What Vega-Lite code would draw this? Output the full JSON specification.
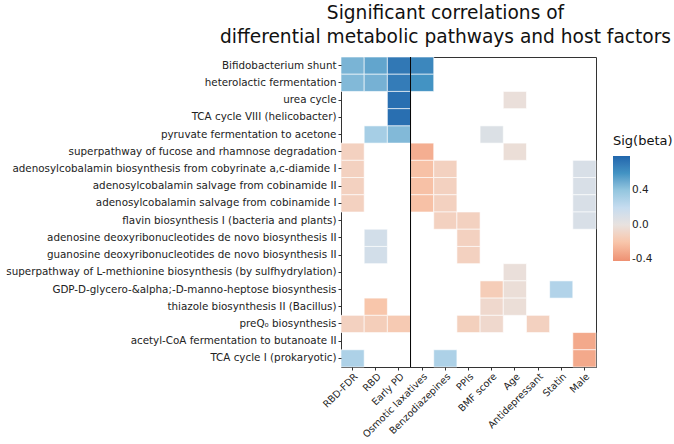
{
  "$schema": "https://vega.github.io/schema/vega-lite/v6.json",
  "width": 255,
  "height": 310,
  "padding": {"left": 5, "top": 3, "right": 5, "bottom": 0},
  "config": {
    "font": "DejaVu Sans",
    "view": {"stroke": "#333333", "strokeWidth": 1},
    "axis": {"labelFontSize": 10.35, "labelColor": "#222222", "tickColor": "#333333", "tickSize": 3, "domain": false, "grid": false, "title": null, "labelPadding": 2, "labelLimit": 0}
  },
  "title": {
    "text": ["Significant correlations of", "differential metabolic pathways and host factors"],
    "fontSize": 18.6, "fontWeight": "normal", "anchor": "middle", "frame": "group", "dx": -23, "offset": 10, "lineHeight": 24, "color": "#111111"
  },
  "layer": [
    {
      "data": {"values": [
        {"pathway": "Bifidobacterium shunt", "factor": "RBD-FDR", "beta": 0.47},
        {"pathway": "Bifidobacterium shunt", "factor": "RBD", "beta": 0.53},
        {"pathway": "Bifidobacterium shunt", "factor": "Early PD", "beta": 0.72},
        {"pathway": "Bifidobacterium shunt", "factor": "Osmotic laxatives", "beta": 0.65},
        {"pathway": "heterolactic fermentation", "factor": "RBD-FDR", "beta": 0.45},
        {"pathway": "heterolactic fermentation", "factor": "RBD", "beta": 0.48},
        {"pathway": "heterolactic fermentation", "factor": "Early PD", "beta": 0.7},
        {"pathway": "heterolactic fermentation", "factor": "Osmotic laxatives", "beta": 0.6},
        {"pathway": "urea cycle", "factor": "Early PD", "beta": 0.76},
        {"pathway": "urea cycle", "factor": "Age", "beta": -0.02},
        {"pathway": "TCA cycle VIII (helicobacter)", "factor": "Early PD", "beta": 0.76},
        {"pathway": "pyruvate fermentation to acetone", "factor": "RBD", "beta": 0.33},
        {"pathway": "pyruvate fermentation to acetone", "factor": "Early PD", "beta": 0.45},
        {"pathway": "pyruvate fermentation to acetone", "factor": "BMF score", "beta": 0.08},
        {"pathway": "superpathway of fucose and rhamnose degradation", "factor": "RBD-FDR", "beta": -0.12},
        {"pathway": "superpathway of fucose and rhamnose degradation", "factor": "Osmotic laxatives", "beta": -0.3},
        {"pathway": "superpathway of fucose and rhamnose degradation", "factor": "Age", "beta": -0.03},
        {"pathway": "adenosylcobalamin biosynthesis from cobyrinate a,c-diamide I", "factor": "RBD-FDR", "beta": -0.12},
        {"pathway": "adenosylcobalamin biosynthesis from cobyrinate a,c-diamide I", "factor": "Osmotic laxatives", "beta": -0.22},
        {"pathway": "adenosylcobalamin biosynthesis from cobyrinate a,c-diamide I", "factor": "Benzodiazepines", "beta": -0.12},
        {"pathway": "adenosylcobalamin biosynthesis from cobyrinate a,c-diamide I", "factor": "Male", "beta": 0.1},
        {"pathway": "adenosylcobalamin salvage from cobinamide II", "factor": "RBD-FDR", "beta": -0.12},
        {"pathway": "adenosylcobalamin salvage from cobinamide II", "factor": "Osmotic laxatives", "beta": -0.22},
        {"pathway": "adenosylcobalamin salvage from cobinamide II", "factor": "Benzodiazepines", "beta": -0.12},
        {"pathway": "adenosylcobalamin salvage from cobinamide II", "factor": "Male", "beta": 0.1},
        {"pathway": "adenosylcobalamin salvage from cobinamide I", "factor": "RBD-FDR", "beta": -0.12},
        {"pathway": "adenosylcobalamin salvage from cobinamide I", "factor": "Osmotic laxatives", "beta": -0.22},
        {"pathway": "adenosylcobalamin salvage from cobinamide I", "factor": "Benzodiazepines", "beta": -0.12},
        {"pathway": "adenosylcobalamin salvage from cobinamide I", "factor": "Male", "beta": 0.1},
        {"pathway": "flavin biosynthesis I (bacteria and plants)", "factor": "Benzodiazepines", "beta": -0.12},
        {"pathway": "flavin biosynthesis I (bacteria and plants)", "factor": "PPIs", "beta": -0.12},
        {"pathway": "flavin biosynthesis I (bacteria and plants)", "factor": "Male", "beta": 0.1},
        {"pathway": "adenosine deoxyribonucleotides de novo biosynthesis II", "factor": "RBD", "beta": 0.13},
        {"pathway": "adenosine deoxyribonucleotides de novo biosynthesis II", "factor": "PPIs", "beta": -0.12},
        {"pathway": "guanosine deoxyribonucleotides de novo biosynthesis II", "factor": "RBD", "beta": 0.13},
        {"pathway": "guanosine deoxyribonucleotides de novo biosynthesis II", "factor": "PPIs", "beta": -0.12},
        {"pathway": "superpathway of L-methionine biosynthesis (by sulfhydrylation)", "factor": "Age", "beta": -0.02},
        {"pathway": "GDP-D-glycero-&alpha;-D-manno-heptose biosynthesis", "factor": "BMF score", "beta": -0.15},
        {"pathway": "GDP-D-glycero-&alpha;-D-manno-heptose biosynthesis", "factor": "Age", "beta": -0.03},
        {"pathway": "GDP-D-glycero-&alpha;-D-manno-heptose biosynthesis", "factor": "Statin", "beta": 0.28},
        {"pathway": "thiazole biosynthesis II (Bacillus)", "factor": "RBD", "beta": -0.2},
        {"pathway": "thiazole biosynthesis II (Bacillus)", "factor": "BMF score", "beta": -0.07},
        {"pathway": "thiazole biosynthesis II (Bacillus)", "factor": "Age", "beta": -0.03},
        {"pathway": "preQ₀ biosynthesis", "factor": "RBD-FDR", "beta": -0.12},
        {"pathway": "preQ₀ biosynthesis", "factor": "RBD", "beta": -0.14},
        {"pathway": "preQ₀ biosynthesis", "factor": "Early PD", "beta": -0.17},
        {"pathway": "preQ₀ biosynthesis", "factor": "PPIs", "beta": -0.13},
        {"pathway": "preQ₀ biosynthesis", "factor": "BMF score", "beta": -0.07},
        {"pathway": "preQ₀ biosynthesis", "factor": "Antidepressant", "beta": -0.12},
        {"pathway": "acetyl-CoA fermentation to butanoate II", "factor": "Male", "beta": -0.32},
        {"pathway": "TCA cycle I (prokaryotic)", "factor": "RBD-FDR", "beta": 0.3},
        {"pathway": "TCA cycle I (prokaryotic)", "factor": "Benzodiazepines", "beta": 0.3},
        {"pathway": "TCA cycle I (prokaryotic)", "factor": "Male", "beta": -0.32}
      ]},
      "mark": {"type": "rect", "stroke": "white", "strokeWidth": 0.6},
      "encoding": {
        "x": {
          "field": "factor", "type": "nominal",
          "scale": {"domain": ["RBD-FDR", "RBD", "Early PD", "Osmotic laxatives", "Benzodiazepines", "PPIs", "BMF score", "Age", "Antidepressant", "Statin", "Male"], "paddingInner": 0, "paddingOuter": 0},
          "axis": {"labelAngle": -45, "labelFontSize": 9.7, "labelPadding": 1}
        },
        "y": {
          "field": "pathway", "type": "nominal",
          "scale": {"domain": ["Bifidobacterium shunt", "heterolactic fermentation", "urea cycle", "TCA cycle VIII (helicobacter)", "pyruvate fermentation to acetone", "superpathway of fucose and rhamnose degradation", "adenosylcobalamin biosynthesis from cobyrinate a,c-diamide I", "adenosylcobalamin salvage from cobinamide II", "adenosylcobalamin salvage from cobinamide I", "flavin biosynthesis I (bacteria and plants)", "adenosine deoxyribonucleotides de novo biosynthesis II", "guanosine deoxyribonucleotides de novo biosynthesis II", "superpathway of L-methionine biosynthesis (by sulfhydrylation)", "GDP-D-glycero-&alpha;-D-manno-heptose biosynthesis", "thiazole biosynthesis II (Bacillus)", "preQ₀ biosynthesis", "acetyl-CoA fermentation to butanoate II", "TCA cycle I (prokaryotic)"], "paddingInner": 0, "paddingOuter": 0}
        },
        "color": {
          "field": "beta", "type": "quantitative",
          "scale": {"domain": [-0.42, -0.2, 0, 0.2, 0.4, 0.6, 0.8], "range": ["#ee9072", "#f8c6ab", "#e8e2df", "#c6dcef", "#94c6df", "#4393c3", "#2166ac"], "interpolate": "lab"},
          "legend": {
            "title": "Sig(beta)", "orient": "none", "direction": "vertical", "legendX": 272, "legendY": 78,
            "titleFontSize": 13, "titleFontWeight": "normal", "titleColor": "#111111", "titlePadding": 8,
            "gradientLength": 105, "gradientThickness": 17, "values": [-0.4, 0, 0.4],
            "labelExpr": "datum.value < 0 ? '-' + format(-datum.value, '.1f') : format(datum.value, '.1f')",
            "labelFontSize": 10.5, "labelColor": "#222222"
          }
        }
      }
    },
    {
      "data": {"values": [{"split": "Osmotic laxatives"}]},
      "mark": {"type": "rule", "color": "black", "strokeWidth": 1},
      "encoding": {"x": {"field": "split", "type": "nominal", "bandPosition": 0}}
    }
  ]
}
